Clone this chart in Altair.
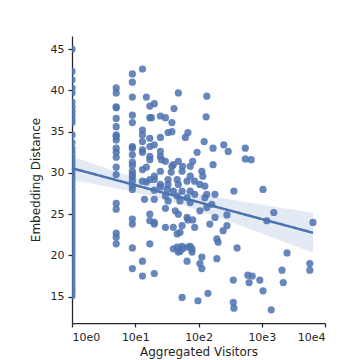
import numpy as np
import pandas as pd
import altair as alt

# Column of pages with 1 visitor (sparse above 34, dense below)
dist_v1 = [45.0, 42.3, 41.3, 40.3, 39.7, 38.6, 38.0, 37.5, 37.0, 36.5, 36.1, 34.6,
           33.7, 33.0, 32.5, 32.0, 31.5, 31.0, 30.5, 30.0, 29.5, 29.0, 28.5, 28.0,
           27.5, 27.0, 26.5, 26.0, 25.5, 25.0, 24.5, 24.0, 23.5, 23.0, 22.5, 22.0,
           21.5, 21.0, 20.5, 20.0, 19.5, 19.0, 18.5, 18.0, 17.5, 17.0, 16.5, 16.0,
           15.6, 15.1]
# Column with 5 visitors
dist_v5 = [40.3, 39.7, 38.0, 37.9, 36.6, 35.6, 34.6, 34.4, 34.0, 33.0, 32.5, 31.9,
           30.7, 29.8, 26.3, 25.6, 22.7, 22.2, 21.4]
# Column with 9 visitors
dist_v9 = [42.0, 41.0, 39.2, 37.0, 36.1, 33.2, 33.0, 32.2, 31.3, 30.9, 30.2, 29.8,
           29.5, 29.0, 28.4, 28.0, 24.4, 23.8, 20.9, 18.4]

# Remaining points (visitors, distance)
other_visitors = [
    13, 15, 48, 135, 17, 20, 41, 17, 18, 25, 30, 38, 132, 13, 13, 33, 38, 25, 62, 68,
    13, 17, 20, 17, 123, 170, 13, 13, 25, 25, 95, 17, 17, 26, 30, 48, 81, 74, 56, 170,
    40, 38, 15, 13, 25, 37, 55, 74, 113, 117, 20, 20, 17, 15, 13, 33, 25, 33, 46, 48,
    66, 87, 105, 126, 74, 55, 40, 32, 25, 20, 30, 46, 66, 87, 126, 135, 182, 20, 14, 33,
    51, 74,
    30, 43, 48, 105, 135, 162, 182, 151, 17, 17, 20, 20, 66, 68, 81, 55, 40, 30, 46, 51,
    87, 17, 40, 46, 55, 51, 56, 74, 79, 79, 68, 48, 195, 204, 195, 113, 105, 113, 66, 13,
    13, 20, 55, 98, 141,
    251, 295, 550, 550, 680, 363, 282, 282, 245, 407, 355, 603, 631, 708, 355, 363,
    1047, 1549, 1202, 6457, 2512, 5754, 5754, 2089, 933, 2188, 1047, 1413,
]
other_distance = [
    42.6, 39.2, 39.7, 39.3, 38.1, 38.4, 37.8, 36.7, 36.7, 36.9, 36.7, 36.1, 36.8, 35.2, 34.6, 34.9, 35.0, 34.3, 34.3, 34.9,
    33.8, 34.2, 33.4, 33.2, 33.8, 33.0, 32.8, 32.5, 32.6, 32.0, 32.5, 32.0, 31.6, 31.6, 31.4, 31.4, 31.4, 30.8, 30.8, 31.0,
    31.0, 30.8, 30.7, 30.4, 30.2, 30.1, 30.2, 29.6, 30.2, 29.6, 29.6, 29.2, 29.2, 28.9, 29.0, 29.2, 28.6, 28.6, 29.2, 28.6,
    29.0, 29.0, 28.6, 28.4, 27.8, 27.8, 27.8, 28.0, 28.3, 27.9, 27.2, 27.2, 27.0, 27.4, 27.0, 27.4, 27.4, 26.8, 26.8, 26.6,
    26.6, 26.4,
    25.7, 25.4, 25.0, 25.4, 25.8, 26.2, 24.6, 23.8, 25.0, 24.2, 24.0, 23.8, 24.6, 24.3, 24.3, 23.6, 23.4, 23.4, 22.6, 22.8,
    23.4, 21.4, 20.8, 21.0, 21.1, 20.5, 20.8, 21.1, 20.8, 20.4, 21.0, 20.4, 22.0, 21.6, 19.6, 19.8, 19.0, 18.4, 19.3, 19.3,
    17.5, 17.8, 14.9, 14.5, 15.4,
    33.4, 32.6, 33.0, 31.7, 31.6, 27.8, 24.9, 23.6, 23.0, 20.9, 17.0, 17.6, 16.7, 17.5, 14.3, 13.6,
    28.0, 25.2, 24.2, 24.0, 20.3, 19.0, 18.2, 18.2, 17.0, 16.7, 15.7, 13.4,
]

visitors = [1] * len(dist_v1) + [5] * len(dist_v5) + [9] * len(dist_v9) + other_visitors
distance = dist_v1 + dist_v5 + dist_v9 + other_distance
df = pd.DataFrame({"visitors": visitors, "distance": distance})

# Log-x linear fit with 95% confidence band
lx = np.log10(df["visitors"].to_numpy(float))
yv = df["distance"].to_numpy(float)
b, a = np.polyfit(lx, yv, 1)
n = len(lx)
resid = yv - (a + b * lx)
s = np.sqrt(np.sum(resid ** 2) / (n - 2))
sxx = np.sum((lx - lx.mean()) ** 2)
grid = np.linspace(lx.min(), lx.max(), 100)
fit = a + b * grid
se = s * np.sqrt(1.0 / n + (grid - lx.mean()) ** 2 / sxx)
fit_df = pd.DataFrame({"visitors": 10 ** grid, "fit": fit,
                       "lo": fit - 1.97 * se, "hi": fit + 1.97 * se})

blue = "#4C72B0"
xscale = alt.Scale(type="log", domain=[1, 10000], nice=False)
yscale = alt.Scale(domain=[11.8, 46.6], nice=False, zero=False)

xaxis = alt.Axis(title="Aggregated Visitors", values=[1, 10, 100, 1000, 10000],
                 labelExpr="'10e' + round(log(datum.value) / LN10)", grid=False)
yaxis = alt.Axis(title="Embedding Distance", values=[15, 20, 25, 30, 35, 40, 45], grid=False)

points = alt.Chart(df).mark_circle(size=52, color=blue, opacity=0.85, clip=True).encode(
    x=alt.X("visitors:Q", scale=xscale, axis=xaxis),
    y=alt.Y("distance:Q", scale=yscale, axis=yaxis),
)
band = alt.Chart(fit_df).mark_area(color=blue, opacity=0.15).encode(
    x=alt.X("visitors:Q", scale=xscale),
    y=alt.Y("lo:Q", scale=yscale),
    y2="hi:Q",
)
line = alt.Chart(fit_df).mark_line(color=blue, strokeWidth=2.5).encode(
    x=alt.X("visitors:Q", scale=xscale),
    y=alt.Y("fit:Q", scale=yscale),
)

chart = (points + band + line).properties(
    width=253, height=287,
    autosize=alt.AutoSizeParams(type="none"),
    padding={"left": 64, "top": 28, "right": 20, "bottom": 36},
).configure_view(stroke=None).configure_axis(
    domainColor="#262626", domainWidth=1.25, tickColor="#262626", tickWidth=1.25,
    tickSize=4, labelPadding=4, labelColor="#262626", titleColor="#262626",
    labelFont="DejaVu Sans", titleFont="DejaVu Sans", labelFontSize=11,
    titleFontSize=12, titleFontWeight="normal",
).configure_axisY(titlePadding=8).configure_axisX(titlePadding=4)

chart.save("out.html", embed_options={"renderer": "svg", "actions": False})
